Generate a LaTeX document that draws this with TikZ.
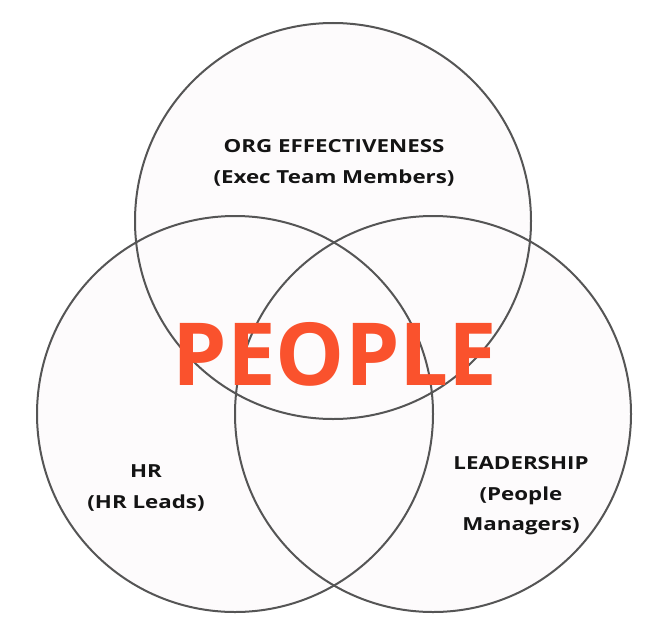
\documentclass[tikz,border=0pt]{standalone}
\usepackage{fontspec}
\setmainfont{Open Sans}
\newfontfamily\lblfont[FakeStretch=1.24]{Open Sans}
\definecolor{ringline}{HTML}{555555}
\definecolor{ringfill}{HTML}{FDFBFC}
\definecolor{peoplered}{HTML}{FA522D}
\begin{document}
\begin{tikzpicture}[x=1pt,y=-1pt,
  ring/.style={draw=ringline,line width=2pt},
  ringbg/.style={fill=ringfill},
  lbl/.style={font=\lblfont\fontsize{18}{30.5}\selectfont\bfseries,text=black!92,align=center,inner sep=0pt}]
\useasboundingbox[fill=white] (0,0) rectangle (671,642);
\coordinate (ct) at (333,221);
\coordinate (cl) at (235,414);
\coordinate (cr) at (433,414);
\fill[ringbg] (ct) circle (198);
\fill[ringbg] (cl) circle (198);
\fill[ringbg] (cr) circle (198);
\draw[ring] (ct) circle (198);
\draw[ring] (cl) circle (198);
\draw[ring] (cr) circle (198);
\node[lbl] (org) at (334,163) {ORG EFFECTIVENESS\\(Exec Team Members)};
\node[lbl] (hr) at (146,488) {HR\\(HR Leads)};
\node[lbl] (lead) at (521,496) {LEADERSHIP\\(People\\Managers)};
\node[font=\fontsize{87}{87}\selectfont\bfseries,text=peoplered,inner sep=0pt] (people) at (335,354) {PEOPLE};
\end{tikzpicture}
\end{document}
